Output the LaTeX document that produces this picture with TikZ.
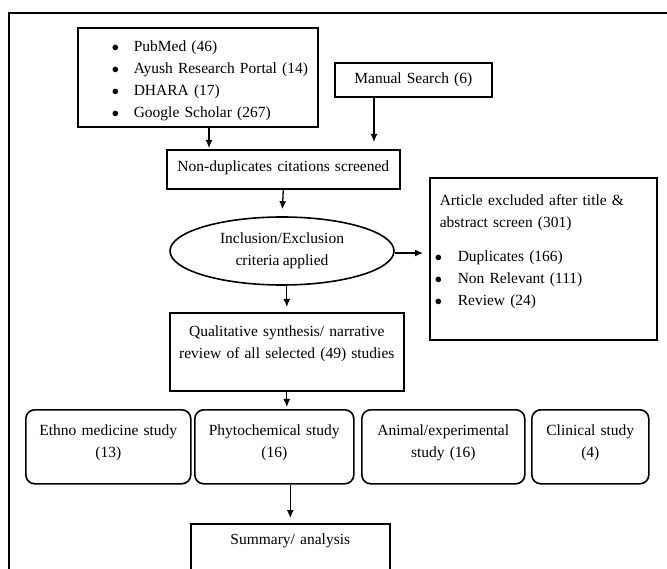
\documentclass[tikz,border=0pt]{standalone}
\usepackage{fontspec}
\setmainfont{Liberation Serif}[WordSpace=0.85]
\usepackage{tikz}
\usetikzlibrary{shapes,arrows,arrows.meta}
\tikzstyle{r} = [rectangle, draw=black, line width=1.6pt, align=left, inner sep=0pt, anchor=north west]
\tikzstyle{rc} = [r, align=center]
\tikzstyle{rr} = [rc, rounded corners=9pt, text height=25.5pt, text depth=48.5pt]
\tikzstyle{e} = [ellipse, draw=black, line width=1.6pt, align=center, inner sep=0pt, minimum width=224pt, minimum height=68pt]
\tikzstyle{arr} = [-{Latex[length=8pt,width=7pt]}, line width=1.3pt, shorten >=5pt]
\newcommand{\bul}[1]{\makebox[#1][l]{$\bullet$}}

\begin{document}
\begin{tikzpicture}[x=1pt,y=-1pt,font=\fontsize{15.5}{22}\selectfont]
\useasboundingbox (0,0) rectangle (667,569);
\clip (0,0) rectangle (667,569);
\draw[line width=1.3pt] (667,13) -- (9,13) -- (9,600);
% search sources
\node[r, text width=240pt, text height=23.5pt, text depth=75.5pt](1) at (77,27){%
\hspace*{34pt}\bul{22pt}PubMed (46)\\
\hspace*{34pt}\bul{22pt}Ayush Research Portal (14)\\
\hspace*{34pt}\bul{22pt}DHARA (17)\\
\hspace*{34pt}\bul{22pt}Google Scholar (267)};
\node[rc, text width=157pt, text height=20.5pt, text depth=13.5pt](2) at (334,62){Manual Search (6)};
\node[rc, text width=233pt, text height=21.5pt, text depth=17.5pt](3) at (166,149){Non-duplicates citations screened};
\node[e](4) at (282,251){Inclusion/Exclusion\\ criteria applied};
\node[r, text width=227pt, text height=27.5pt, text depth=134.5pt](5) at (429,177){%
\hspace*{10pt}Article excluded after title \&\\
\hspace*{10pt}abstract screen (301)\\[12pt]
\hspace*{5pt}\bul{23pt}Duplicates (166)\\
\hspace*{5pt}\bul{23pt}Non Relevant (111)\\
\hspace*{5pt}\bul{23pt}Review (24)};
\node[rc, text width=234pt, text height=23.5pt, text depth=54.5pt](6) at (169,312){Qualitative synthesis/ narrative\\ review of all selected (49) studies};
% study types
\node[rr, text width=165pt](7) at (25,409){Ethno medicine study\\ (13)};
\node[rr, text width=159pt](8) at (194,409){Phytochemical study\\ (16)};
\node[rr, text width=163pt](9) at (361,409){Animal/experimental\\ study (16)};
\node[rr, text width=117pt](10) at (531,409){Clinical study\\ (4)};
\node[rc, text width=199pt, text height=20.5pt, text depth=70pt](11) at (190,523){Summary/ analysis};
% arrows
\draw[arr, shorten >=1pt] ([xshift=132pt]1.south west) -- ([xshift=132pt]1.south west |- 3.north);
\draw[arr, shorten >=7pt] ([xshift=40pt]2.south west) -- ([xshift=40pt]2.south west |- 3.north);
\draw[arr, shorten >=7pt] (3.south) -- (4.north);
\draw[arr, shorten >=6pt] ([yshift=-2pt]4.east) -- ([yshift=-2pt]4.east -| 5.west);
\draw[arr] (6.north |- 4.south) -- (6.north);
\draw[arr, shorten >=2pt] (6.south) -- (6.south |- 8.north);
\draw[arr] (11.north |- 8.south) -- (11.north);
\end{tikzpicture}
\end{document}
